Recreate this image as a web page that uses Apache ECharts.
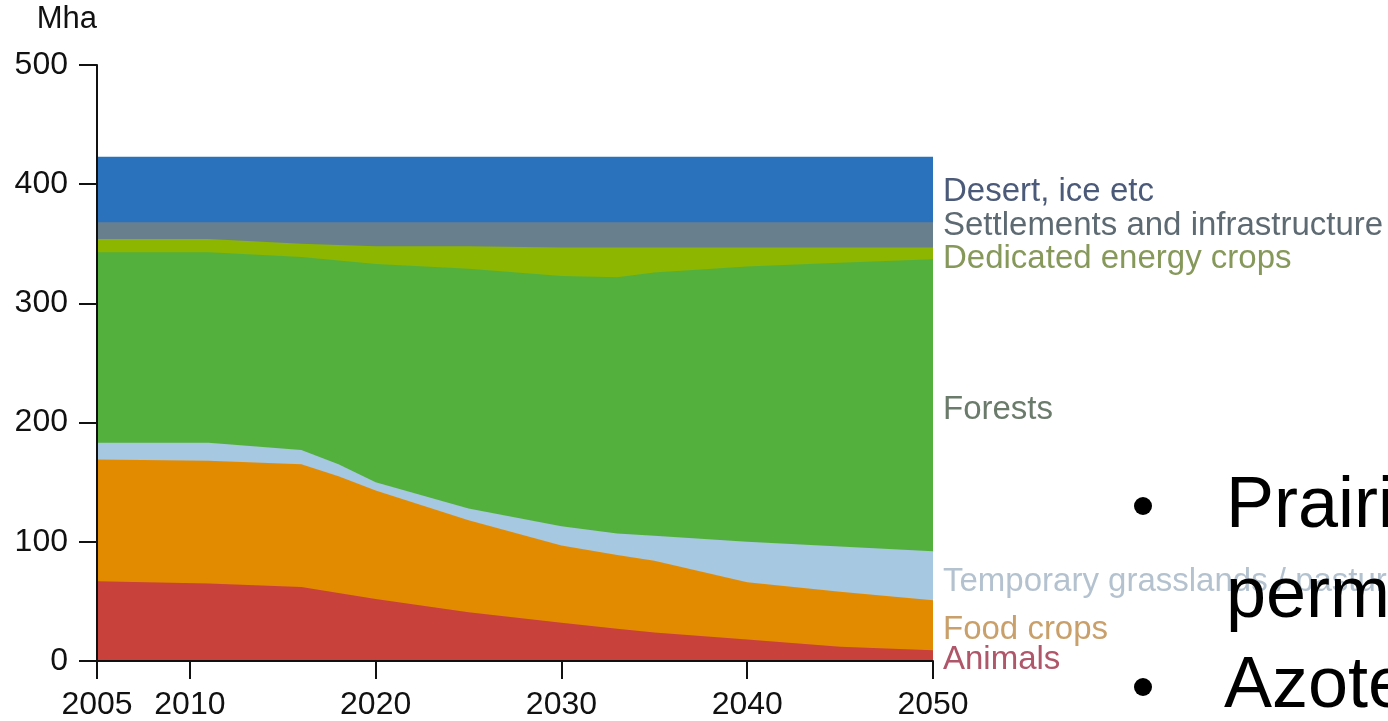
<!DOCTYPE html>
<html>
<head>
<meta charset="utf-8">
<script src="https://cdn.jsdelivr.net/npm/echarts@6/dist/echarts.min.js"></script>
<style>
html,body{margin:0;padding:0;background:#fff;}
#chart{width:1388px;height:721px;}
</style>
</head>
<body>
<div id="chart"></div>
<script>
// ---- data (Mha) ----
const years       = [2005, 2011, 2016, 2018, 2020, 2025, 2030, 2033, 2035, 2040, 2045, 2050];
const animals     = [67, 65, 62, 57, 52, 41, 32, 27, 24, 18, 12, 9];
const foodCrops   = [102, 103, 103, 98, 91, 77, 65, 62, 60, 48, 46, 42];
const grasslands  = [14, 15, 12, 10, 7, 10, 16, 18, 21, 34, 38, 41];
const forests     = [160, 160, 162, 171, 183, 201, 210, 215, 221, 231, 238, 245];
const energyCrops = [11, 11, 11, 13, 15, 19, 24, 25, 21, 16, 13, 10];
const settlements = [14, 14, 18, 19, 20, 20, 21, 21, 21, 21, 21, 21];
const desert      = [55, 55, 55, 55, 55, 55, 55, 55, 55, 55, 55, 55];
const xTicks = [2005, 2010, 2020, 2030, 2040, 2050];
const seriesNames = ['Animals', 'Food crops', 'Temporary grasslands / pastures', 'Forests',
                     'Dedicated energy crops', 'Settlements and infrastructure', 'Desert, ice etc'];
const seriesData = [animals, foodCrops, grasslands, forests, energyCrops, settlements, desert];
const colors = ['#c8413a', '#e38b00', '#a6c8e0', '#53b03d', '#8cb600', '#687f8e', '#2a73bc'];

// cumulative (stacked) tops built from the layer arrays
const cumulative = [];
seriesData.forEach((arr, i) => {
  cumulative.push(arr.map((v, j) => v + (i > 0 ? cumulative[i - 1][j] : 0)));
});

const chart = echarts.init(document.getElementById('chart'), null, {renderer: 'canvas'});
const FONT = 'Liberation Sans, Arial, sans-serif';

const series = cumulative.map((arr, i) => ({
  name: seriesNames[i],
  type: 'line',
  data: years.map((y, j) => [y, arr[j]]),
  showSymbol: false,
  symbol: 'none',
  smooth: false,
  lineStyle: {width: 0},
  areaStyle: {color: colors[i], opacity: 1, origin: 'start'},
  itemStyle: {color: colors[i]},
  z: 2 + (seriesData.length - i)
}));

function lbl(text, y, color) {
  return {type: 'text', z: 10,
          style: {x: 943, y: y, text: text, fill: color, font: '33px ' + FONT, verticalAlign: 'middle'}};
}

chart.setOption({
  animation: false,
  backgroundColor: '#ffffff',
  grid: {left: 97, right: 455, top: 65, bottom: 56, containLabel: false},
  xAxis: {
    type: 'value', min: 2005, max: 2050,
    axisLine: {show: true, onZero: false, lineStyle: {color: '#111', width: 2}},
    axisTick: {show: true, length: 18, lineStyle: {color: '#111', width: 2}, customValues: xTicks},
    axisLabel: {color: '#111', fontSize: 32, fontFamily: FONT, margin: 28, customValues: xTicks,
                formatter: v => String(v)},
    splitLine: {show: false},
    z: 20
  },
  yAxis: {
    type: 'value', min: 0, max: 500, interval: 100,
    name: 'Mha', nameLocation: 'end', nameGap: 30,
    nameTextStyle: {color: '#111', fontSize: 31, fontFamily: FONT, align: 'right'},
    axisLine: {show: true, lineStyle: {color: '#111', width: 2}},
    axisTick: {show: true, length: 18, lineStyle: {color: '#111', width: 2}},
    axisLabel: {color: '#111', fontSize: 32, fontFamily: FONT, margin: 29},
    splitLine: {show: false},
    z: 20
  },
  series: series,
  graphic: [
    lbl('Desert, ice etc', 192, '#4b5a78'),
    lbl('Settlements and infrastructure', 226, '#5d6a72'),
    lbl('Dedicated energy crops', 259, '#86985a'),
    lbl('Forests', 410, '#6b7b6b'),
    lbl('Temporary grasslands / pastures', 582, '#b4c2d0'),
    lbl('Food crops', 630, '#c9a06a'),
    lbl('Animals', 660, '#b0566a'),
    {type: 'circle', shape: {cx: 1143, cy: 506, r: 9}, style: {fill: '#000'}, z: 20},
    {type: 'circle', shape: {cx: 1143, cy: 687, r: 9}, style: {fill: '#000'}, z: 20},
    {type: 'text', left: 1226, top: 471, z: 20, style: {text: 'Prairi', fill: '#000', font: '72px ' + FONT}},
    {type: 'text', left: 1226, top: 561, z: 20, style: {text: 'perm', fill: '#000', font: '72px ' + FONT}},
    {type: 'text', left: 1224, top: 651, z: 20, style: {text: 'Azote', fill: '#000', font: '72px ' + FONT}}
  ]
});
</script>
</body>
</html>
